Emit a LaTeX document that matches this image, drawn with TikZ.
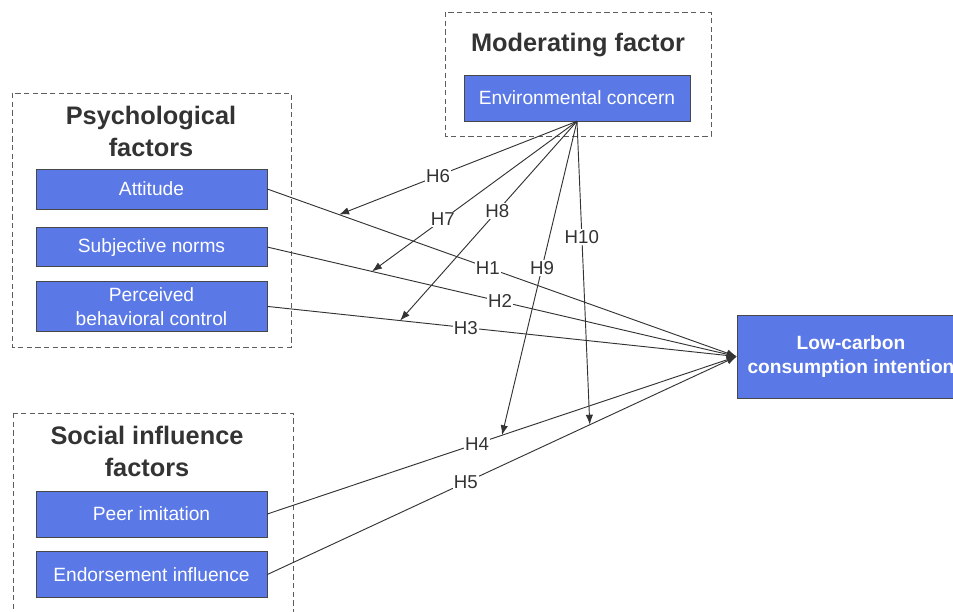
\documentclass[tikz,border=0pt]{standalone}
\usepackage{fontspec}
\setmainfont{Liberation Sans}
\usepackage{xcolor}
\usetikzlibrary{arrows.meta,positioning}

\definecolor{boxblue}{HTML}{5A78E6}
\definecolor{inkgray}{HTML}{333333}

\begin{document}
\begin{tikzpicture}[
  x=0.75pt, y=-0.75pt,
  factorbox/.style={draw=inkgray!90, fill=boxblue, text=white, align=center, minimum width=173.25pt, inner sep=2pt, font=\fontsize{14.4}{18}\selectfont},
  groupbox/.style={draw=inkgray!80, dashed, dash pattern=on 4pt off 2.5pt},
  grouptitle/.style={align=center, text=inkgray, font=\bfseries\fontsize{19}{24}\selectfont},
  hyp/.style={draw=inkgray, line width=0.7pt},
  modarrow/.style={hyp, -{Latex[length=7.5pt,width=5.5pt]}},
  hlabel/.style={fill=white, inner sep=1pt, text=inkgray, font=\fontsize{14}{16}\selectfont}
]
\useasboundingbox (0,0) rectangle (953,611);

% group frames
\draw[groupbox] (445,12) rectangle (711,136);
\draw[groupbox] (12,93) rectangle (291,347);
\draw[groupbox] (13,413) rectangle (293,625);

\node[grouptitle] (modtitle) at (578,45) {Moderating factor};
\node[grouptitle] (psytitle) at (151,131) {Psychological\\factors};
\node[grouptitle] (soctitle) at (147,451.5) {Social influence\\factors};

% factors
\node[factorbox, minimum width=169.5pt, minimum height=34.5pt] (env) at (577,98) {Environmental concern};
\node[factorbox, minimum height=30pt] (att) at (151.5,189) {Attitude};
\node[factorbox, minimum height=29.25pt, below=13.5pt of att] (subj) {Subjective norms};
\node[factorbox, minimum height=38pt, below=10.5pt of subj] (pbc) {Perceived\\behavioral control};
\node[factorbox, minimum height=34.5pt] (peer) at (151.5,514) {Peer imitation};
\node[factorbox, minimum height=34.5pt, below=10.5pt of peer] (endo) {Endorsement influence};
\node[factorbox, minimum width=171pt, minimum height=62pt, font=\bfseries\fontsize{14.4}{18}\selectfont] (lci) at (851,356.5) {Low-carbon\\consumption intention};

% direct paths
\draw[modarrow] (att.east) -- coordinate[pos=0.153] (m1) node[hlabel, pos=0.47] {H1} (lci.west);
\draw[modarrow] (subj.east) -- coordinate[pos=0.223] (m2) node[hlabel, pos=0.496] {H2} (lci.west);
\draw[modarrow] (pbc.east) -- coordinate[pos=0.283] (m3) node[hlabel, pos=0.423] {H3} (lci.west);
\draw[modarrow] (peer.east) -- coordinate[pos=0.5] (m4) node[hlabel, pos=0.447] {H4} (lci.west);
\draw[modarrow] (endo.east) -- coordinate[pos=0.687] (m5) node[hlabel, pos=0.423] {H5} (lci.west);

% moderation
\draw[modarrow] (env.south) -- node[hlabel, pos=0.584] {H6} (m1);
\draw[modarrow] (env.south) -- node[hlabel, pos=0.654] {H7} (m2);
\draw[modarrow] (env.south) -- node[hlabel, pos=0.45] {H8} (m3);
\draw[modarrow] (env.south) -- node[hlabel, pos=0.467] {H9} (m4);
\draw[modarrow] (env.south) -- node[hlabel, pos=0.38] {H10} (m5);
\end{tikzpicture}
\end{document}
